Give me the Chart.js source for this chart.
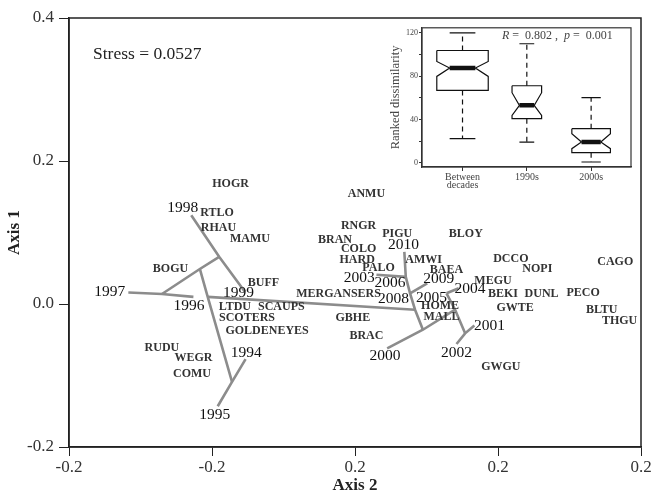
<!DOCTYPE html>
<html>
<head>
<meta charset="utf-8">
<script src="https://cdn.jsdelivr.net/npm/chart.js@4.4.1/dist/chart.umd.min.js"></script>
<style>
  html, body { margin: 0; padding: 0; background: #fff; }
  #wrap { position: relative; width: 663px; height: 496px; }
  #main { position: absolute; left: 0; top: 0; }
  #inset { position: absolute; left: 388px; top: 22px; }
</style>
</head>
<body>
<div id="wrap">
  <canvas id="main" width="663" height="496" style="width:663px;height:496px"></canvas>
  <canvas id="inset" width="252" height="175" style="width:252px;height:175px"></canvas>
</div>
<script>
// ---- ordination data (Axis 2 = x, Axis 1 = y) ----
const speciesNames = ['HOGR','RTLO','RHAU','MAMU','BOGU','BUFF','LTDU','SCAUPS','SCOTERS','GOLDENEYES',
  'MERGANSERS','RUDU','WEGR','COMU','ANMU','RNGR','BRAN','COLO','HARD','PALO','PIGU','AMWI','BAEA',
  'HOME','MALL','GBHE','BRAC','BLOY','DCCO','NOPI','MEGU','BEKI','DUNL','GWTE','CAGO','PECO','BLTU','THGU','GWGU'];
const speciesAxis2 = [-0.174,-0.193,-0.191,-0.147,-0.258,-0.128,-0.168,-0.103,-0.151,-0.123,
  -0.023,-0.270,-0.226,-0.228,0.016,0.005,-0.028,0.005,0.003,0.033,0.059,0.096,0.128,
  0.119,0.121,-0.003,0.016,0.155,0.218,0.255,0.193,0.207,0.261,0.224,0.364,0.319,0.345,0.370,0.204];
const speciesAxis1 = [0.168,0.128,0.107,0.091,0.049,0.029,-0.004,-0.004,-0.020,-0.038,
  0.014,-0.061,-0.075,-0.098,0.154,0.109,0.090,0.077,0.062,0.050,0.098,0.062,0.048,
  -0.003,-0.018,-0.020,-0.045,0.098,0.063,0.049,0.032,0.014,0.014,-0.005,0.059,0.016,-0.008,-0.024,-0.088];

const yearNames = ['1994','1995','1996','1997','1998','1999','2000','2001','2002','2003','2004','2005','2006','2008','2009','2010'];
const yearAxis2 = [-0.152,-0.196,-0.232,-0.343,-0.241,-0.163,0.042,0.188,0.142,0.006,0.161,0.107,0.049,0.054,0.117,0.068];
const yearAxis1 = [-0.068,-0.155,-0.003,0.017,0.134,0.015,-0.072,-0.031,-0.068,0.037,0.021,0.009,0.029,0.007,0.035,0.083];

// minimum spanning tree: node positions and the paths drawn between them
const treeNodes = ['y1997','c','y1996','b','a','y1998','y1999','e','d','y1994','y1995','f',
  'y2010','g','y2003','h','y2009','j','y2000','k','n2005','y2004','l','y2001','y2002'];
const treeAxis2 = [-0.317,-0.270,-0.226,-0.217,-0.190,-0.229,-0.154,-0.206,-0.172,-0.153,-0.192,0.084,
  0.069,0.071,0.030,0.077,0.101,0.095,0.045,0.140,0.128,0.145,0.154,0.167,0.142];
const treeAxis1 = [0.016,0.014,0.010,0.049,0.066,0.124,0.017,0.010,-0.109,-0.077,-0.143,-0.008,
  0.073,0.038,0.041,0.015,0.029,-0.036,-0.062,-0.008,0.015,0.022,-0.041,-0.030,-0.056];
const treePaths = [
  ['y1997','c','y1996'], ['c','b','a'], ['y1998','a','y1999'], ['b','e','d'],
  ['y1994','d','y1995'], ['e','f'], ['y2010','g','h','f','j'], ['y2003','g'],
  ['h','y2009'], ['y2000','j','k'], ['n2005','k','l'], ['n2005','y2004'], ['y2002','l','y2001']
];

const xTickValues = [-0.4, -0.2, 0, 0.2, 0.4];
const xTickLabels = ['-0.2', '-0.2', '0.2', '0.2', '0.2'];
const yTickValues = [-0.2, 0, 0.2, 0.4];
const yTickLabels = ['-0.2', '0.0', '0.2', '0.4'];

// ---- inset boxplot data ----
const boxLabels = [['Between', 'decades'], '1990s', '2000s'];
const boxMin = [22.4, 19.3, 0.9];
const boxQ1 = [66.9, 40.8, 9.5];
const boxNotchLo = [79.8, 43.9, 13.2];
const boxMedian = [87.5, 53.1, 19.3];
const boxNotchHi = [93.6, 64.8, 27.0];
const boxQ3 = [103.7, 71.2, 31.6];
const boxMax = [120, 109.9, 60.2];
const boxTickValues = [0, 20, 40, 60, 80, 100, 120];

const SERIF = '"Liberation Serif", "DejaVu Serif", serif';
const INK = '#222';

// draws text labels at dataset point positions
const textLabelPlugin = {
  id: 'textLabels',
  afterDatasetsDraw(chart) {
    const ctx = chart.ctx;
    chart.data.datasets.forEach((ds, i) => {
      if (!ds.textLabels) return;
      const meta = chart.getDatasetMeta(i);
      ctx.save();
      ctx.font = ds.textFont;
      ctx.fillStyle = ds.textColor;
      ctx.textAlign = 'center';
      ctx.textBaseline = 'middle';
      meta.data.forEach((el, j) => ctx.fillText(ds.textLabels[j], el.x, el.y));
      ctx.restore();
    });
  }
};

const frameMain = {
  id: 'frameMain',
  afterDraw(chart) {
    const { ctx, chartArea: a } = chart;
    ctx.save();
    ctx.strokeStyle = INK;
    ctx.lineWidth = 1.5;
    ctx.strokeRect(a.left, a.top, a.right - a.left, a.bottom - a.top);
    ctx.font = '17.5px ' + SERIF;
    ctx.fillStyle = INK;
    ctx.textAlign = 'left';
    ctx.textBaseline = 'middle';
    ctx.fillText('Stress = 0.0527', a.left + 24, a.top + 36);
    ctx.restore();
  }
};

const nodePoint = name => {
  const i = treeNodes.indexOf(name);
  return { x: treeAxis2[i], y: treeAxis1[i] };
};

const treeDatasets = treePaths.map(p => ({
  data: p.map(nodePoint),
  showLine: true,
  borderColor: '#8c8c8c',
  borderWidth: 2.6,
  pointRadius: 0,
  fill: false
}));

new Chart(document.getElementById('main'), {
  type: 'scatter',
  data: {
    datasets: [
      ...treeDatasets,
      {
        data: speciesNames.map((n, i) => ({ x: speciesAxis2[i], y: speciesAxis1[i] })),
        pointRadius: 0,
        textLabels: speciesNames,
        textFont: 'bold 12px ' + SERIF,
        textColor: '#333'
      },
      {
        data: yearNames.map((n, i) => ({ x: yearAxis2[i], y: yearAxis1[i] })),
        pointRadius: 0,
        textLabels: yearNames,
        textFont: '15.5px ' + SERIF,
        textColor: '#111'
      }
    ]
  },
  options: {
    responsive: false,
    animation: false,
    devicePixelRatio: 1,
    layout: { padding: { top: 18, right: 22, left: 0, bottom: 0 } },
    plugins: { legend: { display: false }, tooltip: { enabled: false } },
    scales: {
      x: {
        type: 'linear', min: -0.4, max: 0.4,
        afterBuildTicks: s => { s.ticks = xTickValues.map(v => ({ value: v })); },
        afterFit: s => { s.height = 49; },
        ticks: { callback: (v, i) => xTickLabels[i], font: { family: SERIF, size: 17 }, color: '#333', padding: 1, maxRotation: 0 },
        grid: { drawOnChartArea: false, drawTicks: true, tickLength: 9, color: INK, lineWidth: 1 },
        border: { display: true, color: INK, width: 1.5 },
        title: { display: true, text: 'Axis 2', font: { family: SERIF, size: 17, weight: 'bold' }, color: INK, padding: 0 }
      },
      y: {
        type: 'linear', min: -0.2, max: 0.4,
        afterBuildTicks: s => { s.ticks = yTickValues.map(v => ({ value: v })); },
        afterFit: s => { s.width = 69; },
        ticks: { callback: (v, i) => yTickLabels[i], font: { family: SERIF, size: 17 }, color: '#333', padding: 5 },
        grid: { drawOnChartArea: false, drawTicks: true, tickLength: 10, color: INK, lineWidth: 1 },
        border: { display: true, color: INK, width: 1.5 },
        title: { display: true, text: 'Axis 1', font: { family: SERIF, size: 17, weight: 'bold' }, color: INK, padding: { top: 4, bottom: 0 } }
      }
    }
  },
  plugins: [textLabelPlugin, frameMain]
});

// ---- inset: notched boxplots built from the quartile arrays ----
const boxHalfWidth = [0.40, 0.23, 0.30];
const boxLine = { borderColor: '#111', borderWidth: 1.2, pointRadius: 0, showLine: true, fill: false };
const insetDatasets = [];
boxMedian.forEach((m, i) => {
  const x = i + 1, w = boxHalfWidth[i], n = w * 0.5, c = w * 0.5;
  insetDatasets.push({ ...boxLine, borderDash: [5, 4], data: [{ x, y: boxQ3[i] }, { x, y: boxMax[i] }] });
  insetDatasets.push({ ...boxLine, borderDash: [5, 4], data: [{ x, y: boxQ1[i] }, { x, y: boxMin[i] }] });
  insetDatasets.push({ ...boxLine, data: [{ x: x - c, y: boxMax[i] }, { x: x + c, y: boxMax[i] }] });
  insetDatasets.push({ ...boxLine, data: [{ x: x - c, y: boxMin[i] }, { x: x + c, y: boxMin[i] }] });
  insetDatasets.push({ ...boxLine, data: [
    { x: x - w, y: boxQ3[i] }, { x: x + w, y: boxQ3[i] }, { x: x + w, y: boxNotchHi[i] },
    { x: x + n, y: m }, { x: x + w, y: boxNotchLo[i] }, { x: x + w, y: boxQ1[i] },
    { x: x - w, y: boxQ1[i] }, { x: x - w, y: boxNotchLo[i] }, { x: x - n, y: m },
    { x: x - w, y: boxNotchHi[i] }, { x: x - w, y: boxQ3[i] }
  ] });
  insetDatasets.push({ ...boxLine, borderWidth: 4.5, data: [{ x: x - n, y: m }, { x: x + n, y: m }] });
});

const frameInset = {
  id: 'frameInset',
  afterDraw(chart) {
    const { ctx, chartArea: a } = chart;
    ctx.save();
    ctx.strokeStyle = '#333';
    ctx.lineWidth = 1.2;
    ctx.strokeRect(a.left, a.top, a.right - a.left, a.bottom - a.top);
    // R and p annotation
    const parts = [['italic', 'R'], ['normal', ' =  0.802 ,  '], ['italic', 'p'], ['normal', ' =  0.001']];
    let x = a.left + 80;
    const y = a.top + 8;
    ctx.fillStyle = '#444';
    ctx.textBaseline = 'middle';
    ctx.textAlign = 'left';
    parts.forEach(([style, t]) => {
      ctx.font = style + ' 12px ' + SERIF;
      ctx.fillText(t, x, y);
      x += ctx.measureText(t).width;
    });
    ctx.restore();
  }
};

new Chart(document.getElementById('inset'), {
  type: 'scatter',
  data: { datasets: insetDatasets },
  options: {
    responsive: false,
    animation: false,
    devicePixelRatio: 1,
    layout: { padding: { top: 5, right: 9, left: 0, bottom: 0 } },
    plugins: { legend: { display: false }, tooltip: { enabled: false } },
    scales: {
      x: {
        type: 'linear', min: 0.37, max: 3.62,
        afterBuildTicks: s => { s.ticks = [1, 2, 3].map(v => ({ value: v })); },
        afterFit: s => { s.height = 30; },
        ticks: { callback: (v, i) => boxLabels[i], font: { family: SERIF, size: 10, lineHeight: 0.8 }, color: '#444', padding: 2, maxRotation: 0 },
        grid: { drawOnChartArea: false, drawTicks: true, tickLength: 4, color: '#333' },
        border: { display: true, color: '#333', width: 1.2 }
      },
      y: {
        type: 'linear', min: -3.7, max: 124.6,
        afterBuildTicks: s => { s.ticks = boxTickValues.map(v => ({ value: v })); },
        afterFit: s => { s.width = 34; },
        ticks: { callback: v => (v % 40 === 0 ? String(v) : ''), font: { family: SERIF, size: 8 }, color: '#444', padding: 1 },
        grid: { drawOnChartArea: false, drawTicks: true, tickLength: 3, color: '#333' },
        border: { display: true, color: '#333', width: 1.2 },
        title: { display: true, text: 'Ranked dissimilarity', font: { family: SERIF, size: 12.5 }, color: '#444', padding: 0 }
      }
    }
  },
  plugins: [frameInset]
});
</script>
</body>
</html>
